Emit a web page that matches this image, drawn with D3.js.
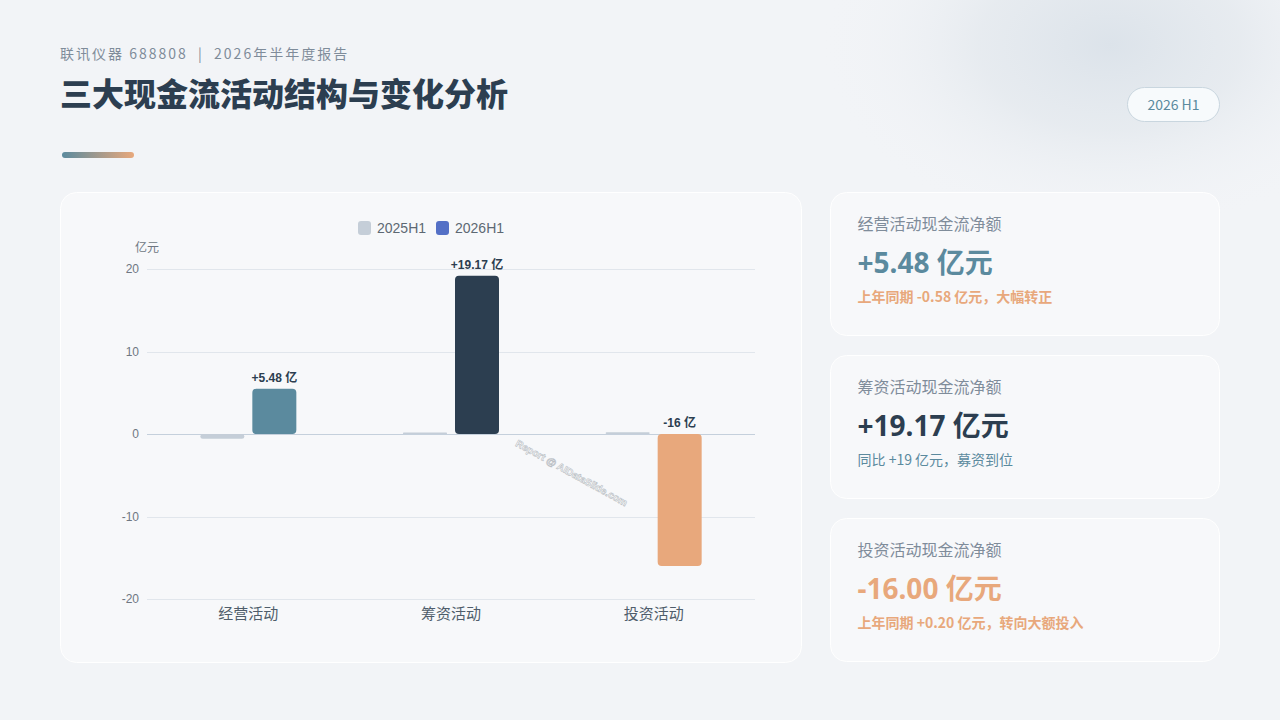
<!DOCTYPE html>
<html><head><meta charset="utf-8">
<script src="https://cdn.jsdelivr.net/npm/d3@7/dist/d3.min.js"></script>
<style>
html,body{margin:0;padding:0;background:#f2f4f7;}
svg{display:block;}
</style></head>
<body>
<svg id="c" width="1280" height="720"></svg>
<script>
const categories = ["经营活动", "筹资活动", "投资活动"];
const seriesNames = ["2025H1", "2026H1"];
const values2025 = [-0.58, 0.17, 0.20];
const values2026 = [5.48, 19.17, -16.00];
const labels2026 = ["+5.48 亿", "+19.17 亿", "-16 亿"];
const yTicks = [-20, -10, 0, 10, 20];
const cardTitles = ["经营活动现金流净额", "筹资活动现金流净额", "投资活动现金流净额"];
const cardValues = ["+5.48 亿元", "+19.17 亿元", "-16.00 亿元"];
const cardNotes = ["上年同期 -0.58 亿元，大幅转正", "同比 +19 亿元，募资到位", "上年同期 +0.20 亿元，转向大额投入"];

const colors2026 = ["#5b8a9e", "#2c3e50", "#e8a87c"];
const color2025 = "#c5ced8";
const legendColors = ["#c5ced8", "#5470c6"];
const cardValueColors = ["#5b8a9e", "#2c3e50", "#e8a87c"];
const cardNoteColors = ["#e8a87c", "#5b8a9e", "#e8a87c"];
const cardNoteWeights = [700, 400, 700];

const CJK = "'Noto Sans CJK SC','Noto Sans',sans-serif";
const svg = d3.select("#c");
const defs = svg.append("defs");

// background blob
const rg = defs.append("radialGradient").attr("id","blob").attr("cx","50%").attr("cy","50%").attr("r","50%");
rg.append("stop").attr("offset","0%").attr("stop-color","#dce3ea").attr("stop-opacity",1);
rg.append("stop").attr("offset","45%").attr("stop-color","#e4e9ee").attr("stop-opacity",0.8);
rg.append("stop").attr("offset","100%").attr("stop-color","#f2f4f7").attr("stop-opacity",0);
svg.append("rect").attr("width",1280).attr("height",720).attr("fill","#f2f4f7");
svg.append("ellipse").attr("cx",1110).attr("cy",45).attr("rx",290).attr("ry",190).attr("fill","url(#blob)");

// header
svg.append("text").attr("x",60).attr("y",59).attr("font-family",CJK).attr("font-size",14)
  .attr("letter-spacing","2px").attr("fill","#7f8c9a").style("white-space","pre")
  .text("联讯仪器 688808\u00a0\u00a0|\u00a0\u00a02026年半年度报告");
svg.append("text").attr("x",60).attr("y",106).attr("font-family",CJK).attr("font-size",32).attr("font-weight",900)
  .attr("fill","#2c3e50").text("三大现金流活动结构与变化分析");
const lg = defs.append("linearGradient").attr("id","acc").attr("x1","0%").attr("x2","100%");
lg.append("stop").attr("offset","0%").attr("stop-color","#5b8a9e");
lg.append("stop").attr("offset","100%").attr("stop-color","#e8a87c");
svg.append("rect").attr("x",62).attr("y",152).attr("width",72).attr("height",6).attr("rx",3).attr("fill","url(#acc)");

// badge
svg.append("rect").attr("x",1127.5).attr("y",87.5).attr("width",92).attr("height",34).attr("rx",17)
  .attr("fill","#f7fafc").attr("stroke","#c9d6df");
svg.append("text").attr("x",1173.5).attr("y",110).attr("text-anchor","middle").attr("font-family",CJK)
  .attr("font-size",14).attr("fill","#5b8a9e").text("2026 H1");

// chart card
svg.append("rect").attr("x",60.5).attr("y",192.5).attr("width",741).attr("height",470).attr("rx",16)
  .attr("fill","#f7f8fa").attr("stroke","#ffffff");

// scales
const y = d3.scaleLinear().domain([-20,20]).range([599,269]);
const x0 = d3.scaleBand().domain(categories).range([147,755]);
const barW = 44, gap = 8;

// grid
const gGrid = svg.append("g");
gGrid.selectAll("line").data(yTicks).join("line")
  .attr("x1",147).attr("x2",755).attr("y1",d=>Math.round(y(d))+0.5).attr("y2",d=>Math.round(y(d))+0.5)
  .attr("stroke",d=>d===0?"#c5d0dc":"#e1e6ec").attr("stroke-width",1);

// y axis labels
const yAxis = d3.axisLeft(y).tickValues(yTicks).tickSize(0).tickPadding(8).tickFormat(d=>String(d));
const ya = svg.append("g").attr("transform","translate(147,0)").call(yAxis);
ya.select(".domain").remove();
ya.selectAll("text").attr("font-family","'Liberation Sans',Arial,sans-serif").attr("font-size",12).attr("fill","#6e7782");
svg.append("text").attr("x",147).attr("y",252).attr("text-anchor","middle").attr("font-family",CJK)
  .attr("font-size",12).attr("fill","#6e7782").text("亿元");

// x axis labels
const xAxis = d3.axisBottom(x0).tickSize(0).tickPadding(9);
const xa = svg.append("g").attr("transform","translate(0,599)").call(xAxis);
xa.select(".domain").remove();
xa.selectAll("text").attr("font-family",CJK).attr("font-size",15).attr("fill","#4f5d6b");

// 2025 bars
svg.append("g").selectAll("rect").data(values2025).join("rect")
  .attr("x",(d,i)=>x0(categories[i])+x0.bandwidth()/2-gap/2-barW)
  .attr("y",d=>Math.min(y(d),y(0)))
  .attr("width",barW)
  .attr("height",d=>Math.max(Math.abs(y(d)-y(0)),1.5))
  .attr("rx",d=>Math.min(3,Math.abs(y(d)-y(0))/2)).attr("fill",color2025);

// 2026 bars
svg.append("g").selectAll("rect").data(values2026).join("rect")
  .attr("x",(d,i)=>x0(categories[i])+x0.bandwidth()/2+gap/2)
  .attr("y",d=>Math.min(y(d),y(0)))
  .attr("width",barW)
  .attr("height",d=>Math.abs(y(d)-y(0)))
  .attr("rx",4).attr("fill",(d,i)=>colors2026[i]);

// labels
svg.append("g").selectAll("text").data(values2026).join("text")
  .attr("x",(d,i)=>x0(categories[i])+x0.bandwidth()/2+gap/2+barW/2)
  .attr("y",d=>Math.min(y(d),y(0))-7)
  .attr("text-anchor","middle").attr("font-family","'Liberation Sans','Noto Sans CJK SC',sans-serif")
  .attr("font-size",12).attr("font-weight",700).attr("fill","#2c3e50")
  .text((d,i)=>labels2026[i]);

// legend
const leg = svg.append("g");
const legX = [358, 436];
seriesNames.forEach((s,i)=>{
  leg.append("rect").attr("x",legX[i]).attr("y",221).attr("width",13).attr("height",14).attr("rx",3).attr("fill",legendColors[i]);
  leg.append("text").attr("x",legX[i]+19).attr("y",233).attr("font-family","'Liberation Sans',Arial,sans-serif")
    .attr("font-size",14).attr("fill","#5d6873").text(s);
});

// watermark
svg.append("text").attr("transform","translate(570,476) rotate(29)").attr("text-anchor","middle")
  .attr("font-family","'Liberation Sans',Arial,sans-serif").attr("font-size",10).attr("font-weight",700)
  .attr("fill","#ffffff").attr("stroke","#b9bec4").attr("stroke-width",0.6).attr("paint-order","fill")
  .text("Report @ AIDataSlide.com");

// right cards
const cardY = [192.5, 355.5, 518.5];
cardY.forEach((cy,i)=>{
  const g = svg.append("g").attr("transform",`translate(830.5,${cy})`);
  g.append("rect").attr("width",389).attr("height",143).attr("rx",16).attr("fill","#f7f8fa").attr("stroke","#ffffff");
  g.append("text").attr("x",27).attr("y",37).attr("font-family",CJK).attr("font-size",16).attr("fill","#7f8c9a").text(cardTitles[i]);
  g.append("text").attr("x",27).attr("y",80).attr("font-family","'Noto Sans','Noto Sans CJK SC',sans-serif").attr("font-size",28)
    .attr("font-weight",700).attr("fill",cardValueColors[i]).text(cardValues[i]);
  g.append("text").attr("x",27).attr("y",109).attr("font-family",CJK).attr("font-size",14)
    .attr("font-weight",cardNoteWeights[i]).attr("fill",cardNoteColors[i]).text(cardNotes[i]);
});
</script>
</body></html>
